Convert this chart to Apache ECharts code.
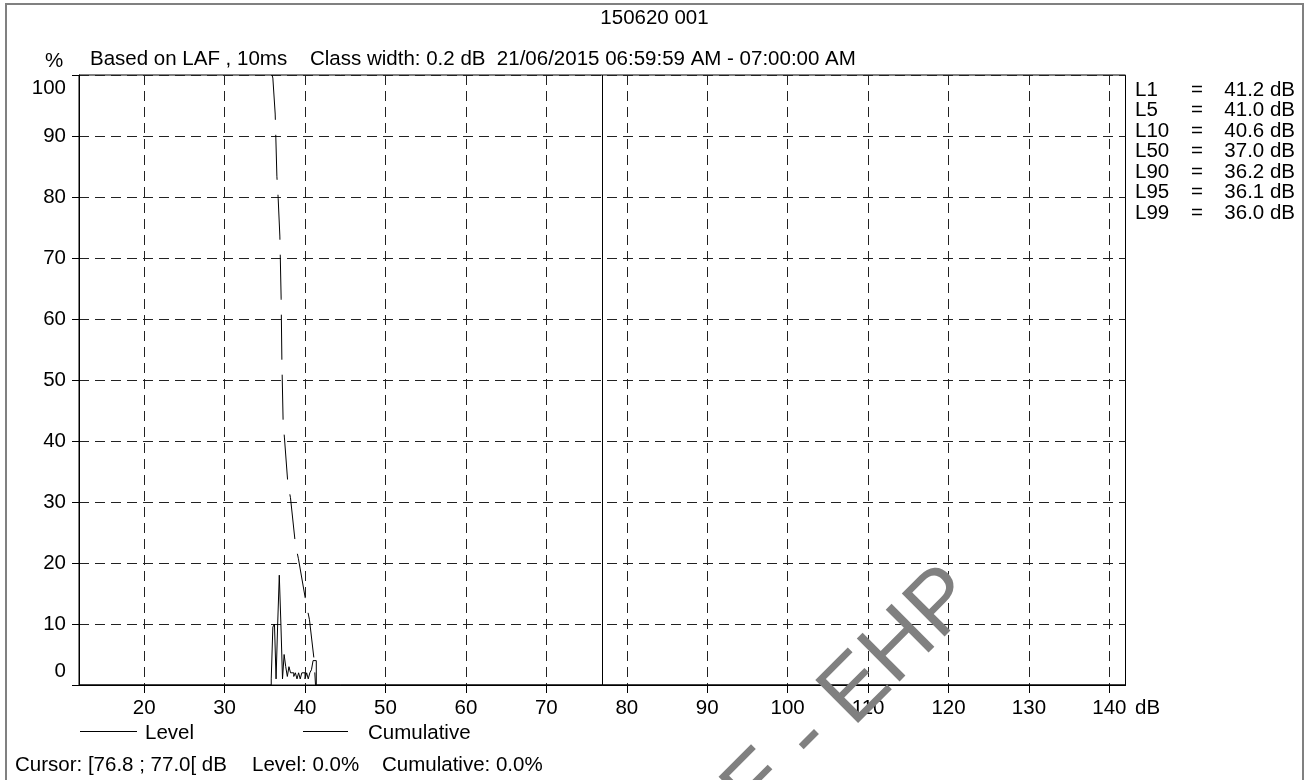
<!DOCTYPE html>
<html>
<head>
<meta charset="utf-8">
<script src="https://cdn.jsdelivr.net/npm/echarts@6/dist/echarts.min.js"></script>
<style>
html,body{margin:0;padding:0;background:#fff;}
#chart{width:1309px;height:780px;}
</style>
</head>
<body>
<div id="chart"></div>
<script>
// ---- data ----
const chartTitle = '150620 001';
const subtitleLeft = 'Based on LAF , 10ms';
const subtitleRight = 'Class width: 0.2 dB  21/06/2015 06:59:59 AM - 07:00:00 AM';
const statNames = ['L1', 'L5', 'L10', 'L50', 'L90', 'L95', 'L99'];
const statValues = ['41.2 dB', '41.0 dB', '40.6 dB', '37.0 dB', '36.2 dB', '36.1 dB', '36.0 dB'];
const xTicks = [20, 30, 40, 50, 60, 70, 80, 90, 100, 110, 120, 130, 140];
const xMin = 11.9;
const xMax = 142.0;
const yTicks = [0, 10, 20, 30, 40, 50, 60, 70, 80, 90, 100];
// histogram (Level) : class edges (0.2 dB) and percentage per class
const levelEdges = [35.8, 36.0, 36.2, 36.4, 36.6, 36.8, 37.0, 37.2, 37.4, 37.6, 37.8, 38.0, 38.2, 38.4, 38.6,
  38.8, 39.0, 39.2, 39.4, 39.6, 39.8, 40.0, 40.2, 40.4, 40.6, 40.8, 41.0, 41.2, 41.4];
const levelPct = [1, 9.5, 10, 1, 10, 18, 10, 1, 5, 3, 1.4, 3, 2, 2, 1.4, 2, 1, 2, 1, 2, 2, 1, 2, 1, 2, 2.5, 4, 4];
// cumulative curve
const cumDb = [35.9, 36.0, 36.29, 36.5, 36.66, 36.87, 37.03, 37.12, 37.28, 37.44, 37.86, 38.19, 38.81, 39.18, 40.14, 40.55, 41.13, 41.3];
const cumPct = [100, 99.5, 93.6, 83.4, 79.8, 73.6, 63.3, 53.3, 43.0, 40.5, 33.1, 30.7, 23.0, 20.7, 13.4, 10.7, 4.1, 0];
const cursorDb = 77.0;
const cursorTexts = ['Cursor: [76.8 ; 77.0[ dB', 'Level: 0.0%', 'Cumulative: 0.0%'];
const legendNames = ['Level', 'Cumulative'];
const watermarkParts = ['SAMPLE - ', 'EHP'];

// ---- build ----
const FONT = '"Liberation Sans", Arial, Helvetica, sans-serif';
const FS = 20.5;
const chart = echarts.init(document.getElementById('chart'), null, {renderer: 'canvas'});

const levelData = [[xMin, 0]];
for (let i = 0; i < levelPct.length; i++) levelData.push([levelEdges[i], levelPct[i]]);
levelData.push([levelEdges[levelEdges.length - 1], 0]);
levelData.push([xMax, 0]);
const cumData = cumDb.map((d, i) => [d, cumPct[i]]);

function txt(x, y, text, align) {
  return {
    type: 'text', x: x, y: y, silent: true, z: 10,
    style: {text: text, font: FS + 'px ' + FONT, fill: '#000', textAlign: align || 'left', textVerticalAlign: 'middle'}
  };
}

const graphics = [];
graphics.push({type: 'rect', silent: true, z: 0, shape: {x: 6, y: 4, width: 1297, height: 820},
  style: {fill: 'none', stroke: '#808080', lineWidth: 2}});
graphics.push(txt(654.5, 18, chartTitle, 'center'));
graphics.push(txt(45, 61, '%', 'left'));
graphics.push(txt(90, 59, subtitleLeft, 'left'));
graphics.push(txt(310, 59, subtitleRight, 'left'));
graphics.push(txt(1135, 708, 'dB', 'left'));
statNames.forEach((n, i) => {
  const y = 90 + i * 20.5;
  graphics.push(txt(1135, y, n, 'left'));
  graphics.push(txt(1197, y, '=', 'center'));
  graphics.push(txt(1295, y, statValues[i], 'right'));
});
graphics.push({type: 'line', silent: true, shape: {x1: 80, y1: 731.5, x2: 137, y2: 731.5}, style: {stroke: '#000', lineWidth: 1}});
graphics.push(txt(145, 733, legendNames[0], 'left'));
graphics.push({type: 'line', silent: true, shape: {x1: 303, y1: 731.5, x2: 348, y2: 731.5}, style: {stroke: '#000', lineWidth: 1}});
graphics.push(txt(368, 733, legendNames[1], 'left'));
graphics.push(txt(15, 765, cursorTexts[0], 'left'));
graphics.push(txt(252, 765, cursorTexts[1], 'left'));
graphics.push(txt(382, 765, cursorTexts[2], 'left'));
// watermark
graphics.push({
  type: 'group', x: 860, y: 725, rotation: Math.PI / 4, silent: true, z: 20,
  children: [
    {type: 'text', x: -7, y: -27, silent: true, z: 20,
      style: {text: watermarkParts[1], font: '88px ' + FONT, fill: '#808080', textAlign: 'left', textVerticalAlign: 'middle'}},
    {type: 'text', x: -7, y: -27, silent: true, z: 20,
      style: {text: watermarkParts[0], font: '88px ' + FONT, fill: '#808080', textAlign: 'right', textVerticalAlign: 'middle'}}
  ]
});

const option = {
  animation: false,
  backgroundColor: '#fff',
  grid: {left: 79, top: 75, right: 183.5, bottom: 95, show: true, borderColor: '#000', borderWidth: 1,
    backgroundColor: 'transparent', containLabel: false, outerBoundsMode: 'none'},
  xAxis: {
    type: 'value', min: xMin, max: xMax, minInterval: 10, maxInterval: 10,
    axisLine: {show: true, onZero: false, lineStyle: {color: '#000', width: 1}},
    axisTick: {show: true, inside: false, length: 8, lineStyle: {color: '#000', width: 1}, customValues: xTicks},
    axisLabel: {show: true, color: '#000', fontSize: FS, fontFamily: FONT, margin: 13, customValues: xTicks},
    splitLine: {show: true, lineStyle: {color: '#222', width: 1, type: [10, 6]}}
  },
  yAxis: {
    type: 'value', min: 0, max: 100, interval: 10,
    axisLine: {show: true, onZero: false, lineStyle: {color: '#000', width: 1}},
    axisTick: {show: true, inside: false, length: 7, lineStyle: {color: '#000', width: 1}},
    axisLabel: {show: true, color: '#000', fontSize: FS, fontFamily: FONT, margin: 13, lineHeight: 27,
      verticalAlignMinLabel: 'bottom', verticalAlignMaxLabel: 'top',
      formatter: v => (yTicks.indexOf(v) >= 0 ? String(v) : '')},
    splitLine: {show: true, lineStyle: {color: '#222', width: 1, type: [10, 6]}}
  },
  graphic: {elements: graphics},
  series: [
    {
      name: legendNames[0], type: 'line', step: 'end', data: levelData, showSymbol: false, symbol: 'none',
      silent: true, z: 3, lineStyle: {color: '#000', width: 1, type: 'solid'},
      markLine: {silent: true, symbol: ['none', 'none'], label: {show: false}, animation: false,
        lineStyle: {color: '#000', width: 1, type: 'solid'}, data: [{xAxis: cursorDb}]}
    },
    {
      name: legendNames[1], type: 'line', data: cumData, showSymbol: false, symbol: 'none', smooth: false,
      silent: true, z: 3, lineStyle: {color: '#000', width: 1, type: [45, 15]}
    }
  ]
};
chart.setOption(option);
</script>
</body>
</html>
